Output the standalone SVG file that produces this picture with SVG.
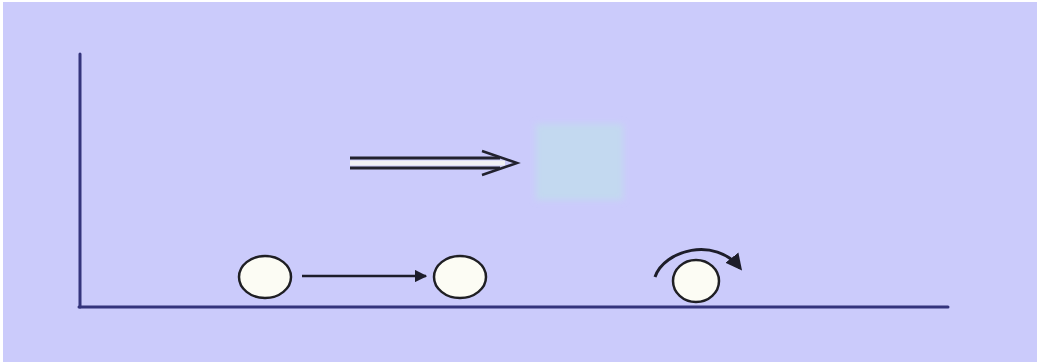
<svg xmlns="http://www.w3.org/2000/svg" width="1040" height="364" viewBox="0 0 1040 364">
  <style>
    .axis { stroke: #34347c; stroke-width: 3; fill: none; stroke-linecap: round; }
    .ball { fill: #fcfcf4; stroke: #1f1f24; stroke-width: 2.5; }
    .arrow { stroke: #1d1d2a; stroke-width: 2.5; fill: none; }
  </style>
  <defs>
    <marker id="head" viewBox="0 0 10 10" refX="9" refY="5" markerWidth="5" markerHeight="5" orient="auto" markerUnits="strokeWidth">
      <path d="M0,0 L10,5 L0,10 Z" fill="#1d1d2a"/>
    </marker>
    <marker id="head-big" viewBox="0 0 10 10" refX="8" refY="5" markerWidth="5.5" markerHeight="6" orient="auto" markerUnits="strokeWidth">
      <path d="M0,0 L10,5 L0,10 Z" fill="#1d1d2a"/>
    </marker>
    <filter id="soft" x="-20%" y="-20%" width="140%" height="140%">
      <feGaussianBlur stdDeviation="3"/>
    </filter>
  </defs>

  <!-- page -->
  <rect x="0" y="0" width="1040" height="364" fill="#ffffff"/>
  <rect x="3" y="2" width="1034" height="360" fill="#cbcbfb"/>

  <!-- light blue block -->
  <rect id="block" x="536" y="124" width="87" height="76" fill="#c3d9f0" filter="url(#soft)"/>

  <!-- axes -->
  <g id="axes">
    <line class="axis" x1="80" y1="54" x2="80" y2="307"/>
    <line class="axis" x1="79" y1="307" x2="948" y2="307"/>
  </g>

  <!-- balls -->
  <g id="ball-start">
    <ellipse class="ball" cx="265" cy="277" rx="26" ry="21"/>
  </g>
  <g id="ball-end">
    <ellipse class="ball" cx="460" cy="277" rx="26" ry="21"/>
  </g>
  <g id="ball-rolling">
    <ellipse class="ball" cx="696" cy="281" rx="23" ry="21"/>
  </g>

  <!-- connectors -->
  <g id="connectors">
    <line class="arrow" x1="302" y1="276" x2="426" y2="276" marker-end="url(#head)"/>
    <path d="M655,277 C664,250 715,236 740,268" stroke="#1d1d2a" stroke-width="3" fill="none" marker-end="url(#head-big)"/>
    <!-- double arrow -->
    <path d="M350,158 L500,158 M350,168 L500,168" stroke="#22222e" stroke-width="3" fill="none"/>
    <path d="M350,163 L505,163" stroke="#f0f0f4" stroke-width="5" fill="none"/>
    <path d="M482,151 L517,163 L482,175" stroke="#22222e" stroke-width="2.5" fill="none" stroke-linejoin="miter"/>
  </g>
</svg>
